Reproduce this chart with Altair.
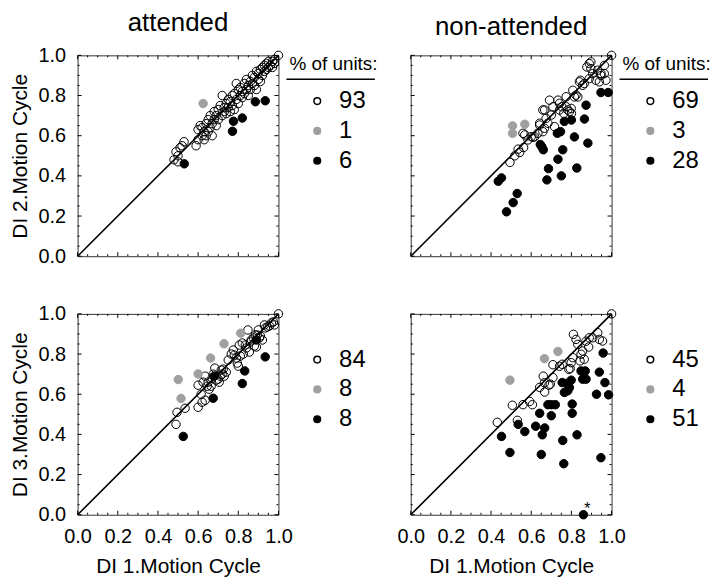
import altair as alt
import pandas as pd

# ---------------- data ----------------
CATS = ["open", "gray", "black"]

A_open = [(0.48,0.48),(0.49,0.52),(0.50,0.50),(0.51,0.54),(0.52,0.55),(0.53,0.57),(0.50,0.47),
          (0.59,0.55),(0.60,0.58),(0.60,0.63),(0.61,0.65),(0.62,0.60),(0.62,0.64),(0.63,0.58),
          (0.63,0.62),(0.64,0.60),(0.64,0.66),(0.65,0.62),(0.65,0.68),(0.66,0.64),(0.66,0.70),
          (0.67,0.66),(0.67,0.60),(0.68,0.68),(0.68,0.72),(0.69,0.65),(0.69,0.70),(0.70,0.73),
          (0.70,0.68),(0.71,0.75),(0.72,0.70),(0.72,0.80),(0.73,0.74),(0.73,0.72),(0.74,0.76),
          (0.74,0.71),(0.75,0.78),(0.75,0.74),(0.76,0.77),(0.76,0.72),(0.77,0.80),(0.77,0.75),
          (0.78,0.81),(0.78,0.73),(0.79,0.86),(0.79,0.78),(0.80,0.83),(0.80,0.76),(0.81,0.80),
          (0.81,0.84),(0.82,0.82),(0.82,0.79),(0.83,0.86),(0.83,0.81),(0.84,0.88),(0.84,0.83),
          (0.85,0.85),(0.85,0.80),(0.86,0.87),(0.86,0.83),(0.87,0.90),(0.87,0.86),(0.88,0.85),
          (0.88,0.89),(0.89,0.92),(0.89,0.83),(0.90,0.88),(0.90,0.91),(0.91,0.93),(0.91,0.87),
          (0.92,0.90),(0.92,0.94),(0.93,0.92),(0.93,0.95),(0.94,0.93),(0.94,0.96),(0.95,0.94),
          (0.95,0.97),(0.96,0.95),(0.97,0.97),(0.97,0.94),(0.98,0.98),(0.98,0.96),(1.00,1.00)]
A_gray = [(0.625,0.76)]
A_black = [(0.531,0.46),(0.771,0.622),(0.776,0.672),(0.82,0.688),(0.885,0.769),(0.934,0.774)]
A_pct = ["93", "1", "6"]

B_open = [(0.494,0.467),(0.518,0.50),(0.535,0.533),(0.543,0.517),(0.562,0.541),(0.559,0.612),
          (0.568,0.604),(0.584,0.579),(0.60,0.595),(0.609,0.592),(0.617,0.595),(0.633,0.612),
          (0.642,0.653),(0.642,0.662),(0.658,0.62),(0.666,0.637),(0.658,0.728),(0.667,0.728),
          (0.674,0.686),(0.683,0.662),(0.691,0.777),(0.70,0.703),(0.708,0.744),(0.716,0.645),
          (0.733,0.777),(0.741,0.728),(0.741,0.761),(0.752,0.744),(0.762,0.711),(0.774,0.744),
          (0.774,0.794),(0.782,0.728),(0.799,0.736),(0.79,0.72),(0.80,0.71),(0.807,0.826),
          (0.815,0.793),(0.823,0.802),(0.832,0.793),(0.84,0.868),(0.845,0.876),(0.856,0.851),
          (0.864,0.86),(0.877,0.942),(0.889,0.884),(0.889,0.959),(0.897,0.967),(0.897,0.934),
          (0.906,0.909),(0.922,0.876),(0.931,0.926),(0.939,0.868),(0.947,0.90),(0.947,0.91),
          (0.964,0.95),(0.964,0.909),(0.972,0.876),(1.0,1.0)]
B_gray = [(0.507,0.649),(0.507,0.612),(0.568,0.657)]
B_black = [(0.477,0.221),(0.51,0.267),(0.53,0.312),(0.436,0.373),(0.452,0.39),(0.645,0.556),
           (0.653,0.545),(0.66,0.53),(0.678,0.38),(0.686,0.436),(0.733,0.483),(0.75,0.40),
           (0.757,0.53),(0.73,0.612),(0.746,0.62),(0.765,0.671),(0.80,0.678),(0.815,0.594),
           (0.827,0.439),(0.865,0.683),(0.873,0.752),(0.882,0.563),(0.947,0.815),(0.983,0.815)]
B_pct = ["69", "3", "28"]

C_open = [(0.49,0.45),(0.495,0.51),(0.535,0.53),(0.60,0.535),(0.62,0.56),(0.635,0.57),(0.60,0.645),
          (0.615,0.60),(0.625,0.66),(0.635,0.69),(0.645,0.64),(0.65,0.66),(0.655,0.625),(0.665,0.64),
          (0.67,0.68),(0.675,0.70),(0.683,0.73),(0.69,0.67),(0.70,0.675),(0.705,0.66),(0.71,0.69),
          (0.715,0.72),(0.72,0.70),(0.725,0.725),(0.73,0.69),(0.74,0.71),(0.75,0.77),(0.765,0.80),
          (0.775,0.82),(0.78,0.795),(0.79,0.78),(0.795,0.755),(0.80,0.74),(0.805,0.845),(0.81,0.79),
          (0.82,0.855),(0.825,0.80),(0.835,0.845),(0.84,0.83),(0.848,0.92),(0.855,0.81),(0.86,0.86),
          (0.865,0.87),(0.875,0.88),(0.88,0.84),(0.885,0.895),(0.89,0.835),(0.895,0.895),(0.90,0.92),
          (0.905,0.88),(0.91,0.89),(0.92,0.87),(0.93,0.945),(0.935,0.93),(0.945,0.935),(0.955,0.94),
          (0.965,0.955),(0.975,0.96),(0.98,0.945),(1.0,1.0)]
C_gray = [(0.501,0.673),(0.515,0.579),(0.60,0.701),(0.662,0.78),(0.729,0.851),(0.812,0.904)]
C_black = [(0.526,0.39),(0.675,0.58),(0.82,0.653),(0.832,0.716),(0.934,0.786),(0.89,0.87),(0.68,0.69)]
C_pct = ["84", "8", "8"]

D_open = [(0.431,0.46),(0.506,0.545),(0.531,0.47),(0.559,0.548),(0.592,0.564),(0.606,0.548),
          (0.642,0.634),(0.66,0.69),(0.666,0.657),(0.667,0.611),(0.688,0.645),(0.695,0.65),
          (0.708,0.683),(0.708,0.747),(0.741,0.739),(0.754,0.749),(0.787,0.724),(0.794,0.728),
          (0.799,0.757),(0.807,0.782),(0.81,0.898),(0.823,0.873),(0.832,0.848),(0.843,0.766),
          (0.848,0.799),(0.856,0.815),(0.864,0.774),(0.873,0.864),(0.886,0.835),(0.889,0.881),
          (0.906,0.881),(0.931,0.906),(0.939,0.873),(0.955,0.865),(1.0,1.0)]
D_gray = [(0.494,0.67),(0.666,0.777),(0.733,0.813)]
D_black = [(0.452,0.39),(0.494,0.31),(0.535,0.45),(0.568,0.414),(0.622,0.441),(0.642,0.505),
           (0.655,0.398),(0.667,0.432),(0.65,0.30),(0.683,0.548),(0.70,0.493),(0.72,0.548),
           (0.70,0.548),(0.757,0.37),(0.762,0.254),(0.754,0.658),(0.777,0.654),(0.765,0.609),
           (0.782,0.617),(0.79,0.633),(0.799,0.67),(0.804,0.551),(0.804,0.505),(0.828,0.398),
           (0.848,0.716),(0.869,0.716),(0.856,0.675),(0.873,0.675),(0.925,0.60),(0.939,0.71),
           (0.958,0.805),(0.967,0.658),(0.985,0.597),(0.947,0.284),(0.86,0.0)]
D_pct = ["45", "4", "51"]
D_note = [(0.88, 0.03, "*")]

DIAG = [(0.0, 0.0), (1.0, 1.0)]
MAJOR = [0.0, 0.2, 0.4, 0.6, 0.8, 1.0]
MINOR = [0.05, 0.1, 0.15, 0.25, 0.3, 0.35, 0.45, 0.5, 0.55, 0.65, 0.7, 0.75, 0.85, 0.9, 0.95]

TITLES = ["attended", "non-attended"]
XTITLE = "DI 1.Motion Cycle"
YTITLES = ["DI 2.Motion Cycle", "DI 3.Motion Cycle"]
LEGEND_TITLE = "% of units:"

FONT = "Liberation Sans"
W = 202
GRAY = "#a0a0a0"


def panel(op, gr, bl, pct, title, ytitle, show_x, show_y, header, note=None):
    rows = ([dict(x=a, y=b, cat="open") for a, b in op] +
            [dict(x=a, y=b, cat="gray") for a, b in gr] +
            [dict(x=a, y=b, cat="black") for a, b in bl])
    df = pd.DataFrame(rows)
    diag = pd.DataFrame(DIAG, columns=["x", "y"])
    sc = alt.Scale(domain=[0, 1], nice=False, zero=False)

    xax = alt.Axis(orient="bottom", values=MAJOR, format=".1f", ticks=False, domain=False,
                   grid=False, labelFontSize=20, labelPadding=12, labelFlush=False,
                   labelColor="black", title=XTITLE, titleFontSize=21,
                   titleFontWeight="normal", titlePadding=9, titleColor="black") if show_x else None
    yax = alt.Axis(orient="left", values=MAJOR, format=".1f", ticks=False, domain=False,
                   grid=False, labelFontSize=20, labelPadding=12, labelFlush=False,
                   labelColor="black", title=ytitle, titleFontSize=21,
                   titleFontWeight="normal", titlePadding=8, titleColor="black") if show_y else None

    X = lambda f: alt.X(f, scale=sc, axis=xax)
    Y = lambda f: alt.Y(f, scale=sc, axis=yax)

    lab_expr = (f"datum.value == 'open' ? '{pct[0]}' : "
                f"datum.value == 'gray' ? '{pct[1]}' : '{pct[2]}'")
    leg = alt.Legend(title=LEGEND_TITLE, titleFontSize=19, titleFontWeight="normal",
                     titleColor="black", titleOpacity=1 if header else 0,
                     titlePadding=15, labelFontSize=24, labelColor="black",
                     labelExpr=lab_expr, symbolSize=45, symbolStrokeWidth=1.5,
                     symbolType="circle", symbolOffset=16, labelOffset=10,
                     rowPadding=6, offset=11, orient="right", padding=0)

    line = alt.Chart(diag).mark_line(color="black", strokeWidth=1.6).encode(
        x=X("x:Q"), y=Y("y:Q"))

    pts = alt.Chart(df).mark_point(shape="circle", size=72, opacity=1, strokeWidth=1).encode(
        x=X("x:Q"), y=Y("y:Q"),
        fill=alt.Fill("cat:N", scale=alt.Scale(domain=CATS, range=["transparent", GRAY, "black"]),
                      legend=leg),
        stroke=alt.Stroke("cat:N", scale=alt.Scale(domain=CATS, range=["black", GRAY, "black"]),
                          legend=leg))

    layers = [line, pts]

    # inward ticks on all four sides (major and minor)
    for vals, ln in ((MAJOR, 4), (MINOR, 2)):
        td = alt.Chart(pd.DataFrame({"v": vals})).mark_rule(color="black", strokeWidth=1)
        layers += [
            td.encode(x=X("v:Q"), y=alt.value(W), y2=alt.value(W - ln)),
            td.encode(x=X("v:Q"), y=alt.value(0), y2=alt.value(ln)),
            td.encode(y=Y("v:Q"), x=alt.value(0), x2=alt.value(ln)),
            td.encode(y=Y("v:Q"), x=alt.value(W), x2=alt.value(W - ln)),
        ]

    if note:
        ndf = pd.DataFrame(note, columns=["x", "y", "t"])
        layers.append(alt.Chart(ndf).mark_text(fontSize=16, font=FONT, color="black").encode(
            x=X("x:Q"), y=Y("y:Q"), text="t:N"))

    if header:
        layers.append(alt.Chart(diag.head(1)).mark_rule(color="black", strokeWidth=1.5).encode(
            x=alt.value(W + 8), x2=alt.value(W + 97), y=alt.value(24)))

    ch = alt.layer(*layers).properties(width=W, height=W)
    if title:
        ch = ch.properties(title=alt.TitleParams(title, fontSize=26, fontWeight="normal",
                                                 anchor="middle", frame="group", offset=9,
                                                 color="black", font=FONT))
    return ch


pA = panel(A_open, A_gray, A_black, A_pct, TITLES[0], YTITLES[0], False, True, True)
pB = panel(B_open, B_gray, B_black, B_pct, TITLES[1], None, False, False, True)
pC = panel(C_open, C_gray, C_black, C_pct, None, YTITLES[1], True, True, False)
pD = panel(D_open, D_gray, D_black, D_pct, None, None, True, False, False, note=D_note)

res = dict(fill="independent", stroke="independent")
chart = alt.concat(pA, pB, pC, pD, columns=2, bounds="flush",
                   spacing={"row": 58, "column": 133}).resolve_scale(**res).resolve_legend(
    **res).properties(padding=0).configure(font=FONT).configure_view(
    stroke="#333333", strokeWidth=1)

chart.save("out.html", embed_options={"renderer": "svg", "actions": False})
